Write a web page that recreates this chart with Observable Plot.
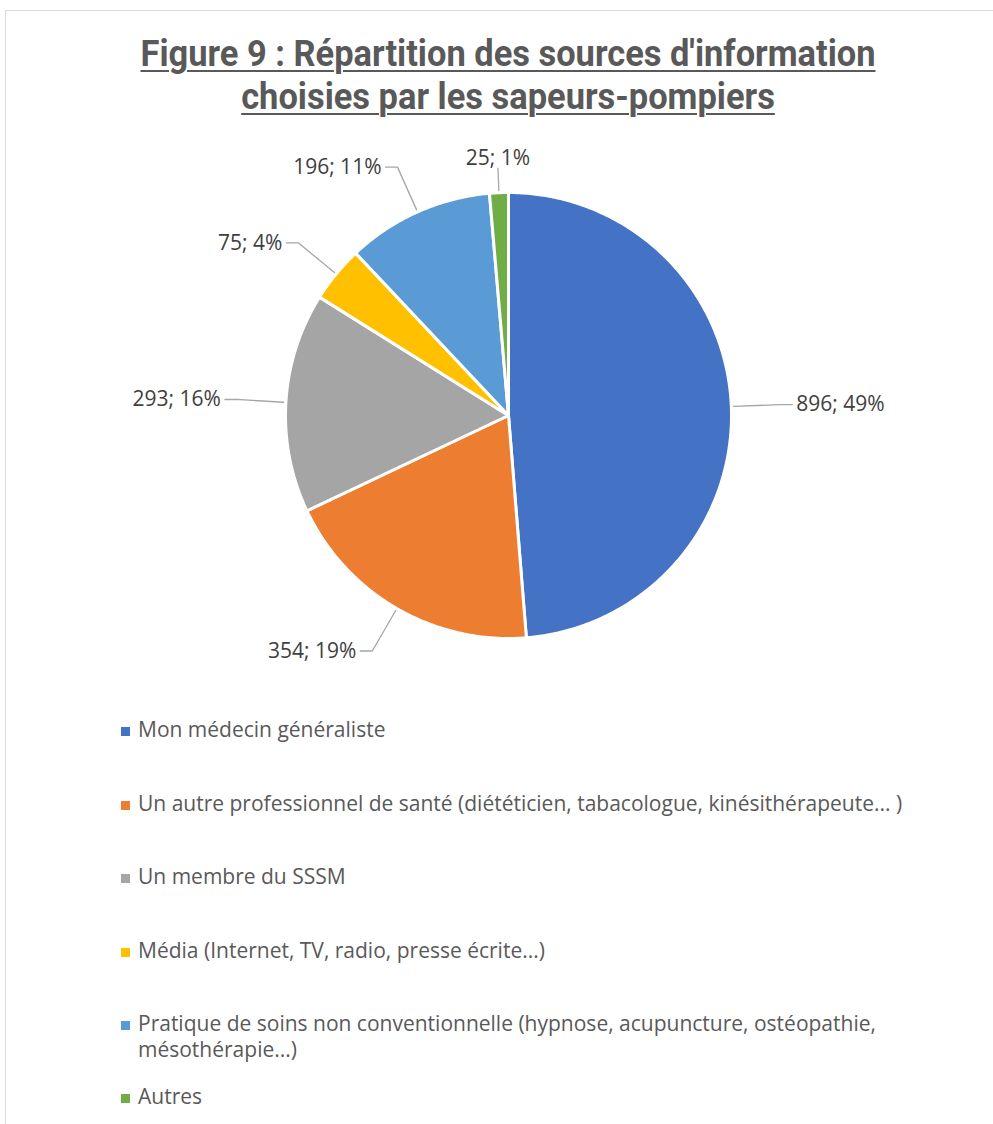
<!DOCTYPE html>
<html><head><meta charset="utf-8">
<script src="https://cdn.jsdelivr.net/npm/d3@7"></script>
<script src="https://cdn.jsdelivr.net/npm/@observablehq/plot@0.6"></script>
<style>
html,body{margin:0;padding:0;background:#fff;overflow:hidden;width:993px;height:1124px;}
#frame{position:absolute;left:5px;top:10px;width:1100px;height:1200px;border-left:1px solid #d9d9d9;border-top:1px solid #d9d9d9;}
#title{position:absolute;left:0;top:33px;width:1016px;text-align:center;white-space:nowrap;font-family:Roboto;font-weight:700;font-size:36px;line-height:43px;color:#595959;text-decoration:underline;text-decoration-thickness:2px;text-underline-offset:4px;transform-origin:50% 50%;}
#chart{position:absolute;left:0;top:130px;}
#legend{position:absolute;left:121px;top:716px;font-family:"Open Sans";font-size:21px;color:#595959;}
.item{display:flex;align-items:flex-start;line-height:26px;margin-bottom:47.5px;}
.item.multi{margin-bottom:21px;}
.sw{width:9px;height:9px;margin-top:11px;margin-right:8px;flex:none;}
.txt{width:790px;}
</style></head><body>
<div id="frame"></div>
<div id="title"></div>
<div id="chart"></div>
<div id="legend"></div>
<script>
const titleLines = ["Figure 9 : Répartition des sources d'information", "choisies par les sapeurs-pompiers"];
const categories = [
  "Mon médecin généraliste",
  "Un autre professionnel de santé (diététicien, tabacologue, kinésithérapeute... )",
  "Un membre du SSSM",
  "Média (Internet, TV, radio, presse écrite...)",
  "Pratique de soins non conventionnelle (hypnose, acupuncture, ostéopathie, mésothérapie...)",
  "Autres"
];
const counts = [896, 354, 293, 75, 196, 25];
const colors = ["#4472C4", "#ED7D31", "#A5A5A5", "#FFC000", "#5B9BD5", "#70AD47"];

const W = 993, H = 560, CX = 508, CY = 285, R = 223;
const total = d3.sum(counts);
const arcs = d3.pie().sort(null).value(d => d)(counts);

// slice polygons (unit radius, y up)
const poly = [];
arcs.forEach((a, i) => {
  const cat = categories[i];
  poly.push({k: i, cat, x: 0, y: 0});
  const n = Math.max(2, Math.ceil((a.endAngle - a.startAngle) / (Math.PI / 360)));
  for (let j = 0; j <= n; j++) {
    const t = a.startAngle + (a.endAngle - a.startAngle) * j / n;
    poly.push({k: i, cat, x: Math.sin(t), y: Math.cos(t)});
  }
  poly.push({k: i, cat, x: 0, y: 0});
});

// labels and leaders
const labels = [], leaders = [];
arcs.forEach((a, i) => {
  const m = (a.startAngle + a.endAngle) / 2;
  const s = Math.sin(m), c = Math.cos(m);
  const text = counts[i] + "; " + Math.round(counts[i] / total * 100) + "%";
  if (Math.abs(s) < 0.2) {
    const e = 1.11;
    leaders.push({k: i, x: s * 1.01, y: c * 1.01}, {k: i, x: s * e, y: c * e});
    labels.push({text, x: s * e, y: c * e, side: c > 0 ? "top" : "bottom"});
  } else {
    const e = 1.22;
    const ex = s * e, ey = c * e;
    const hx = ex + Math.sign(s) * 12 / R;
    leaders.push({k: i, x: s * 1.01, y: c * 1.01}, {k: i, x: ex, y: ey}, {k: i, x: hx, y: ey});
    labels.push({text, x: hx, y: ey, side: s > 0 ? "right" : "left"});
  }
});

const font = {fontFamily: "Open Sans", fontSize: 21, fill: "#404040"};
const chart = Plot.plot({
  width: W, height: H,
  marginTop: 0, marginRight: 0, marginBottom: 0, marginLeft: 0,
  x: {domain: [-CX / R, (W - CX) / R], range: [0, W], axis: null},
  y: {domain: [-(H - CY) / R, CY / R], range: [H, 0], axis: null},
  color: {domain: categories, range: colors},
  marks: [
    Plot.line(poly, {x: "x", y: "y", z: "k", fill: "cat", stroke: "white", strokeWidth: 3, strokeLinejoin: "round", curve: "linear"}),
    Plot.line(leaders, {x: "x", y: "y", z: "k", stroke: "#a6a6a6", strokeWidth: 1.3}),
    Plot.text(labels, {filter: d => d.side === "right", x: "x", y: "y", text: "text", textAnchor: "start", dx: 4, ...font}),
    Plot.text(labels, {filter: d => d.side === "left", x: "x", y: "y", text: "text", textAnchor: "end", dx: -4, ...font}),
    Plot.text(labels, {filter: d => d.side === "top", x: "x", y: "y", text: "text", textAnchor: "middle", lineAnchor: "bottom", dy: -3, ...font}),
    Plot.text(labels, {filter: d => d.side === "bottom", x: "x", y: "y", text: "text", textAnchor: "middle", lineAnchor: "top", dy: 3, ...font})
  ]
});
document.getElementById("chart").appendChild(chart);

// title (one element, two lines)
const titleEl = document.getElementById("title");
titleEl.innerHTML = titleLines.map(t => t.replace(/&/g, "&amp;").replace(/</g, "&lt;")).join("<br>");

// legend
const leg = d3.select("#legend");
categories.forEach((c, i) => {
  const it = leg.append("div").attr("class", "item");
  it.append("div").attr("class", "sw").style("background", colors[i]);
  it.append("div").attr("class", "txt").text(c);
});
document.fonts.ready.then(() => {
  d3.selectAll("#legend .item").each(function () {
    const t = this.querySelector(".txt");
    if (t.getBoundingClientRect().height > 30) this.classList.add("multi");
  });
  const ctx = document.createElement("canvas").getContext("2d");
  ctx.font = "700 36px Roboto";
  const w = ctx.measureText(titleLines[0]).width;
  titleEl.style.transform = `scaleX(${735 / w})`;
});
</script>
</body></html>
